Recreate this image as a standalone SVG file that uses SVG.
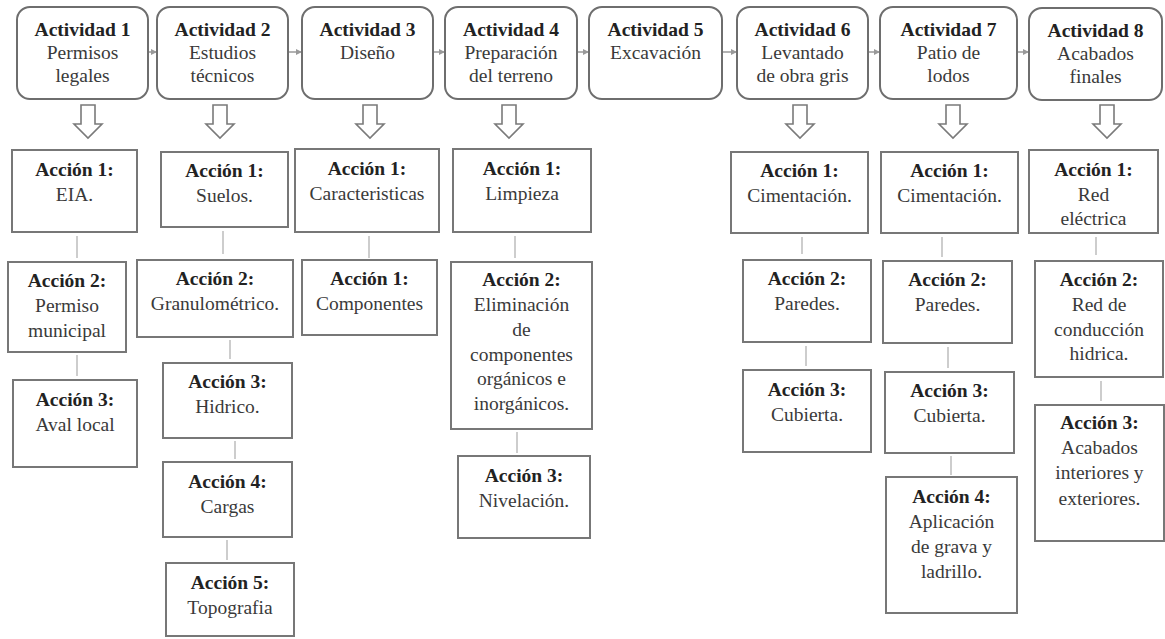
<svg xmlns="http://www.w3.org/2000/svg" width="1165" height="639" viewBox="0 0 1165 639">
<style>
.act{fill:#fff;stroke:#6e6e6e;stroke-width:2}
.box{fill:#fff;stroke:#777;stroke-width:2}
text{font-family:"Liberation Serif","Times New Roman",serif;font-size:19.5px;fill:#3a3a3a;text-anchor:middle}
text.b{font-weight:bold;fill:#222}
.ln{stroke:#bdbdbd;stroke-width:1.5;fill:none}
.sa{stroke:#999;stroke-width:1.5;fill:none}
.da{fill:#fff;stroke:#7a7a7a;stroke-width:1.6}
</style>
<defs>
<marker id="ah" markerWidth="6" markerHeight="6" refX="5" refY="3" orient="auto" markerUnits="userSpaceOnUse">
<path d="M0,0 L6,3 L0,6 z" fill="#999"/>
</marker>
<path id="down" d="M-7,0 H7 V19 H14 L0,33 L-14,19 H-7 Z"/>
</defs>
<rect width="1165" height="639" fill="#fff"/>

<g id="connectors">
<line class="sa" x1="149" y1="52" x2="156" y2="52" marker-end="url(#ah)"/>
<line class="sa" x1="289" y1="52" x2="301" y2="52" marker-end="url(#ah)"/>
<line class="sa" x1="434" y1="52" x2="444" y2="52" marker-end="url(#ah)"/>
<line class="sa" x1="578" y1="52" x2="588" y2="52" marker-end="url(#ah)"/>
<line class="sa" x1="723" y1="52" x2="736" y2="52" marker-end="url(#ah)"/>
<line class="sa" x1="869" y1="52" x2="879" y2="52" marker-end="url(#ah)"/>
<line class="sa" x1="1018" y1="52" x2="1028" y2="52" marker-end="url(#ah)"/>
<use href="#down" class="da" x="88" y="105"/>
<use href="#down" class="da" x="220" y="105"/>
<use href="#down" class="da" x="370" y="105"/>
<use href="#down" class="da" x="509" y="105"/>
<use href="#down" class="da" x="800" y="105"/>
<use href="#down" class="da" x="953" y="105"/>
<use href="#down" class="da" x="1107" y="105"/>
<line class="ln" x1="77" y1="236" x2="77" y2="258"/>
<line class="ln" x1="77" y1="355" x2="77" y2="376"/>
<line class="ln" x1="223" y1="231" x2="223" y2="254"/>
<line class="ln" x1="230" y1="340" x2="230" y2="359"/>
<line class="ln" x1="235" y1="441" x2="235" y2="459"/>
<line class="ln" x1="227" y1="540" x2="227" y2="560"/>
<line class="ln" x1="369" y1="236" x2="369" y2="258"/>
<line class="ln" x1="515" y1="236" x2="515" y2="258"/>
<line class="ln" x1="517" y1="432" x2="517" y2="453"/>
<line class="ln" x1="802" y1="237" x2="802" y2="254"/>
<line class="ln" x1="806" y1="346" x2="806" y2="366"/>
<line class="ln" x1="942" y1="237" x2="942" y2="257"/>
<line class="ln" x1="948" y1="347" x2="948" y2="368"/>
<line class="ln" x1="951" y1="456" x2="951" y2="475"/>
<line class="ln" x1="1096" y1="237" x2="1096" y2="255"/>
<line class="ln" x1="1101" y1="381" x2="1101" y2="401"/>
</g>

<g id="act1"><rect class="act" x="17" y="7" width="131" height="92" rx="13"/>
<text class="b" x="82.5" y="36">Actividad 1</text><text x="82.5" y="59">Permisos</text><text x="82.5" y="82">legales</text></g>
<g id="act2"><rect class="act" x="157" y="7" width="131" height="92" rx="13"/>
<text class="b" x="222.5" y="36">Actividad 2</text><text x="222.5" y="59">Estudios</text><text x="222.5" y="82">técnicos</text></g>
<g id="act3"><rect class="act" x="302" y="7" width="131" height="92" rx="13"/>
<text class="b" x="367.5" y="36">Actividad 3</text><text x="367.5" y="59">Diseño</text></g>
<g id="act4"><rect class="act" x="445" y="7" width="132" height="92" rx="13"/>
<text class="b" x="511" y="36">Actividad 4</text><text x="511" y="59">Preparación</text><text x="511" y="82">del terreno</text></g>
<g id="act5"><rect class="act" x="589" y="7" width="133" height="92" rx="13"/>
<text class="b" x="655.5" y="36">Actividad 5</text><text x="655.5" y="59">Excavación</text></g>
<g id="act6"><rect class="act" x="737" y="7" width="131" height="92" rx="13"/>
<text class="b" x="802.5" y="36">Actividad 6</text><text x="802.5" y="59">Levantado</text><text x="802.5" y="82">de obra gris</text></g>
<g id="act7"><rect class="act" x="880" y="7" width="137" height="92" rx="13"/>
<text class="b" x="948.5" y="36">Actividad 7</text><text x="948.5" y="59">Patio de</text><text x="948.5" y="82">lodos</text></g>
<g id="act8"><rect class="act" x="1029" y="8" width="133" height="92" rx="13"/>
<text class="b" x="1095.5" y="37">Actividad 8</text><text x="1095.5" y="60">Acabados</text><text x="1095.5" y="83">finales</text></g>

<g id="c1a1"><rect class="box" x="12" y="150" width="125" height="82"/>
<text class="b" x="74.5" y="176">Acción 1:</text><text x="74.5" y="201">EIA.</text></g>
<g id="c1a2"><rect class="box" x="8" y="262" width="118" height="90"/>
<text class="b" x="67" y="287">Acción 2:</text><text x="67" y="312">Permiso</text><text x="67" y="337">municipal</text></g>
<g id="c1a3"><rect class="box" x="13" y="380" width="124" height="87"/>
<text class="b" x="75" y="406">Acción 3:</text><text x="75" y="431">Aval local</text></g>

<g id="c2a1"><rect class="box" x="161" y="152" width="127" height="75"/>
<text class="b" x="224.5" y="177">Acción 1:</text><text x="224.5" y="202">Suelos.</text></g>
<g id="c2a2"><rect class="box" x="137" y="260" width="156" height="77"/>
<text class="b" x="215" y="285">Acción 2:</text><text x="215" y="310">Granulométrico.</text></g>
<g id="c2a3"><rect class="box" x="163" y="363" width="129" height="75"/>
<text class="b" x="227.5" y="388">Acción 3:</text><text x="227.5" y="413">Hidrico.</text></g>
<g id="c2a4"><rect class="box" x="163" y="462" width="129" height="75"/>
<text class="b" x="227.5" y="488">Acción 4:</text><text x="227.5" y="513">Cargas</text></g>
<g id="c2a5"><rect class="box" x="166" y="563" width="128" height="73"/>
<text class="b" x="230" y="589">Acción 5:</text><text x="230" y="614">Topografia</text></g>

<g id="c3a1"><rect class="box" x="295" y="149" width="144" height="83"/>
<text class="b" x="367" y="175">Acción 1:</text><text x="367" y="200">Caracteristicas</text></g>
<g id="c3a2"><rect class="box" x="302" y="260" width="135" height="75"/>
<text class="b" x="369.5" y="285">Acción 1:</text><text x="369.5" y="310">Componentes</text></g>

<g id="c4a1"><rect class="box" x="453" y="149" width="138" height="83"/>
<text class="b" x="522" y="175">Acción 1:</text><text x="522" y="200">Limpieza</text></g>
<g id="c4a2"><rect class="box" x="451" y="262" width="141" height="167"/>
<text class="b" x="521.5" y="286">Acción 2:</text><text x="521.5" y="311">Eliminación</text><text x="521.5" y="336">de</text><text x="521.5" y="361">componentes</text><text x="521.5" y="385">orgánicos e</text><text x="521.5" y="410">inorgánicos.</text></g>
<g id="c4a3"><rect class="box" x="458" y="456" width="132" height="82"/>
<text class="b" x="524" y="482">Acción 3:</text><text x="524" y="507">Nivelación.</text></g>

<g id="c6a1"><rect class="box" x="731" y="152" width="137" height="81"/>
<text class="b" x="799.5" y="177">Acción 1:</text><text x="799.5" y="202">Cimentación.</text></g>
<g id="c6a2"><rect class="box" x="743" y="260" width="128" height="82"/>
<text class="b" x="807" y="285">Acción 2:</text><text x="807" y="310">Paredes.</text></g>
<g id="c6a3"><rect class="box" x="743" y="370" width="128" height="82"/>
<text class="b" x="807" y="396">Acción 3:</text><text x="807" y="421">Cubierta.</text></g>

<g id="c7a1"><rect class="box" x="881" y="152" width="137" height="81"/>
<text class="b" x="949.5" y="177">Acción 1:</text><text x="949.5" y="202">Cimentación.</text></g>
<g id="c7a2"><rect class="box" x="883" y="261" width="129" height="82"/>
<text class="b" x="947.5" y="286">Acción 2:</text><text x="947.5" y="311">Paredes.</text></g>
<g id="c7a3"><rect class="box" x="885" y="372" width="129" height="81"/>
<text class="b" x="949.5" y="397">Acción 3:</text><text x="949.5" y="422">Cubierta.</text></g>
<g id="c7a4"><rect class="box" x="886" y="477" width="131" height="136"/>
<text class="b" x="951.5" y="503">Acción 4:</text><text x="951.5" y="528">Aplicación</text><text x="951.5" y="553">de grava y</text><text x="951.5" y="578">ladrillo.</text></g>

<g id="c8a1"><rect class="box" x="1029" y="150" width="129" height="83"/>
<text class="b" x="1093.5" y="176">Acción 1:</text><text x="1093.5" y="201">Red</text><text x="1093.5" y="225">eléctrica</text></g>
<g id="c8a2"><rect class="box" x="1035" y="261" width="128" height="116"/>
<text class="b" x="1099" y="286">Acción 2:</text><text x="1099" y="311">Red de</text><text x="1099" y="336">conducción</text><text x="1099" y="360">hidrica.</text></g>
<g id="c8a3"><rect class="box" x="1035" y="405" width="129" height="136"/>
<text class="b" x="1099.5" y="429">Acción 3:</text><text x="1099.5" y="454">Acabados</text><text x="1099.5" y="479">interiores y</text><text x="1099.5" y="505">exteriores.</text></g>
</svg>
